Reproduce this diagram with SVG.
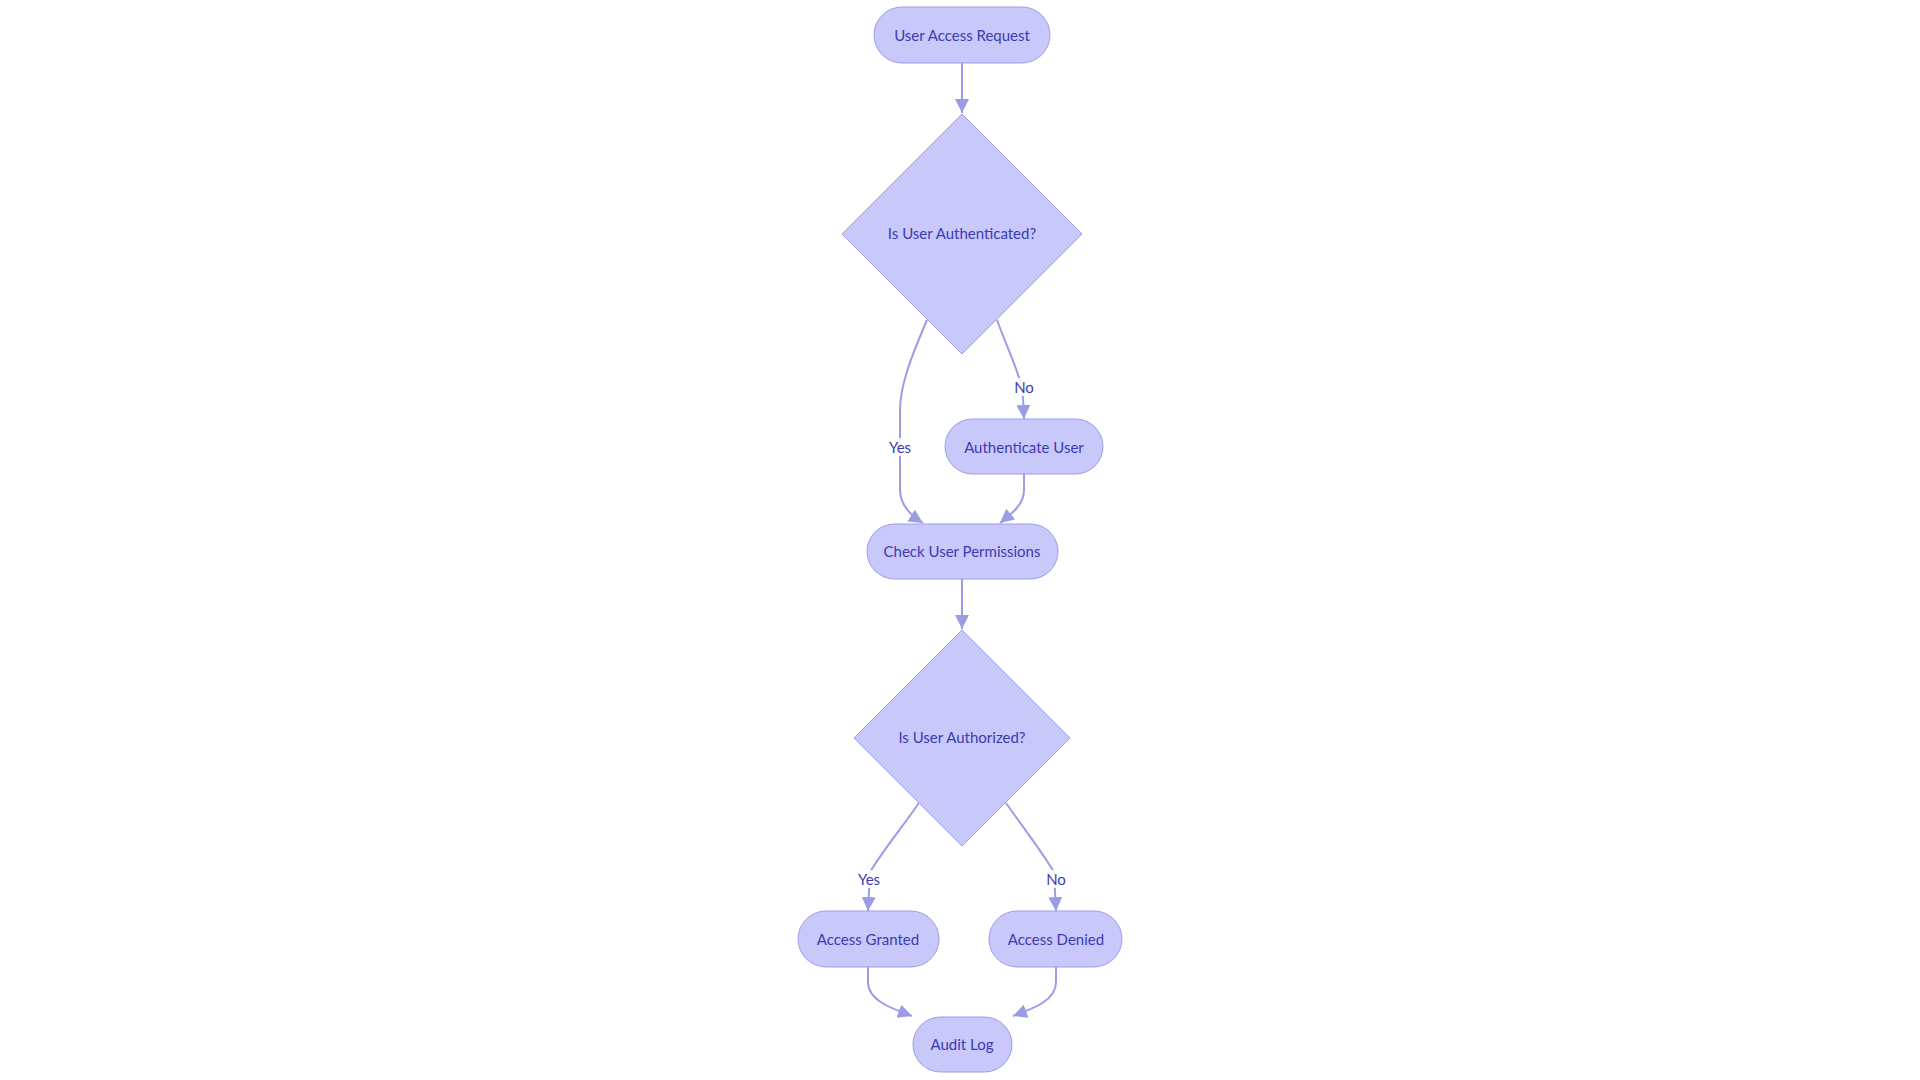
<svg xmlns="http://www.w3.org/2000/svg" width="1920" height="1080" viewBox="0 0 1920 1080">
<defs>
<marker id="arrow" viewBox="0 0 10 10" refX="10" refY="5" markerUnits="userSpaceOnUse" markerWidth="14" markerHeight="14" orient="auto">
<path d="M0,0 L10,5 L0,10 z" fill="#9c9ce6"/>
</marker>
<style>
.node rect,.node polygon{fill:#c8c8fb;stroke:#9d9de8;stroke-width:1}
.lbl{font-family:Lato,"Noto Sans",sans-serif;font-size:15px;fill:#3b3bb2;text-anchor:middle;dominant-baseline:central}
.edge{fill:none;stroke:#9c9ce6;stroke-width:2;marker-end:url(#arrow)}
.elbg{fill:#ffffff;opacity:0.85}
</style>
</defs>
<rect width="1920" height="1080" fill="#ffffff"/>
<g id="connectors">
<path class="edge" d="M962,63 L962,113"/>
<path class="edge" d="M927,320 C912,355 900,385 900,410 L900,490 C900,505 910,515 923,523"/>
<path class="edge" d="M997,320 C1010,355 1022,378 1023,398 L1024,419"/>
<path class="edge" d="M1024,474 L1024,490 C1024,505 1012,513 1000,523"/>
<path class="edge" d="M962,579 L962,629"/>
<path class="edge" d="M919,803 C900,830 882,852 870,872 L868,911"/>
<path class="edge" d="M1006,803 C1025,830 1042,852 1054,872 L1056,911"/>
<path class="edge" d="M868,967 L868,982 C868,1000 890,1008 912,1016"/>
<path class="edge" d="M1056,967 L1056,982 C1056,1000 1035,1008 1013,1016"/>
<g id="edge-labels">
<rect class="elbg" x="887" y="438" width="26" height="18"/>
<text class="lbl" x="900" y="447">Yes</text>
<rect class="elbg" x="1014" y="378" width="20" height="18"/>
<text class="lbl" x="1024" y="387">No</text>
<rect class="elbg" x="856" y="870" width="26" height="18"/>
<text class="lbl" x="869" y="879">Yes</text>
<rect class="elbg" x="1046" y="870" width="20" height="18"/>
<text class="lbl" x="1056" y="879">No</text>
</g>
</g>
<g id="n-request" class="node">
<rect x="874" y="7" width="176" height="56" rx="28"/>
<text class="lbl" x="962" y="35">User Access Request</text>
</g>
<g id="n-authq" class="node">
<polygon points="962,114 1082,234 962,354 842,234"/>
<text class="lbl" x="962" y="233">Is User Authenticated?</text>
</g>
<g id="n-auth" class="node">
<rect x="945" y="419" width="158" height="55" rx="27.5"/>
<text class="lbl" x="1024" y="447">Authenticate User</text>
</g>
<g id="n-perm" class="node">
<rect x="867" y="524" width="191" height="55" rx="27.5"/>
<text class="lbl" x="962" y="551">Check User Permissions</text>
</g>
<g id="n-authz" class="node">
<polygon points="962,630 1070,738 962,846 854,738"/>
<text class="lbl" x="962" y="737">Is User Authorized?</text>
</g>
<g id="n-granted" class="node">
<rect x="798" y="911" width="141" height="56" rx="28"/>
<text class="lbl" x="868" y="939">Access Granted</text>
</g>
<g id="n-denied" class="node">
<rect x="989" y="911" width="133" height="56" rx="28"/>
<text class="lbl" x="1056" y="939">Access Denied</text>
</g>
<g id="n-audit" class="node">
<rect x="913" y="1017" width="99" height="55" rx="27.5"/>
<text class="lbl" x="962" y="1044">Audit Log</text>
</g>
</svg>
